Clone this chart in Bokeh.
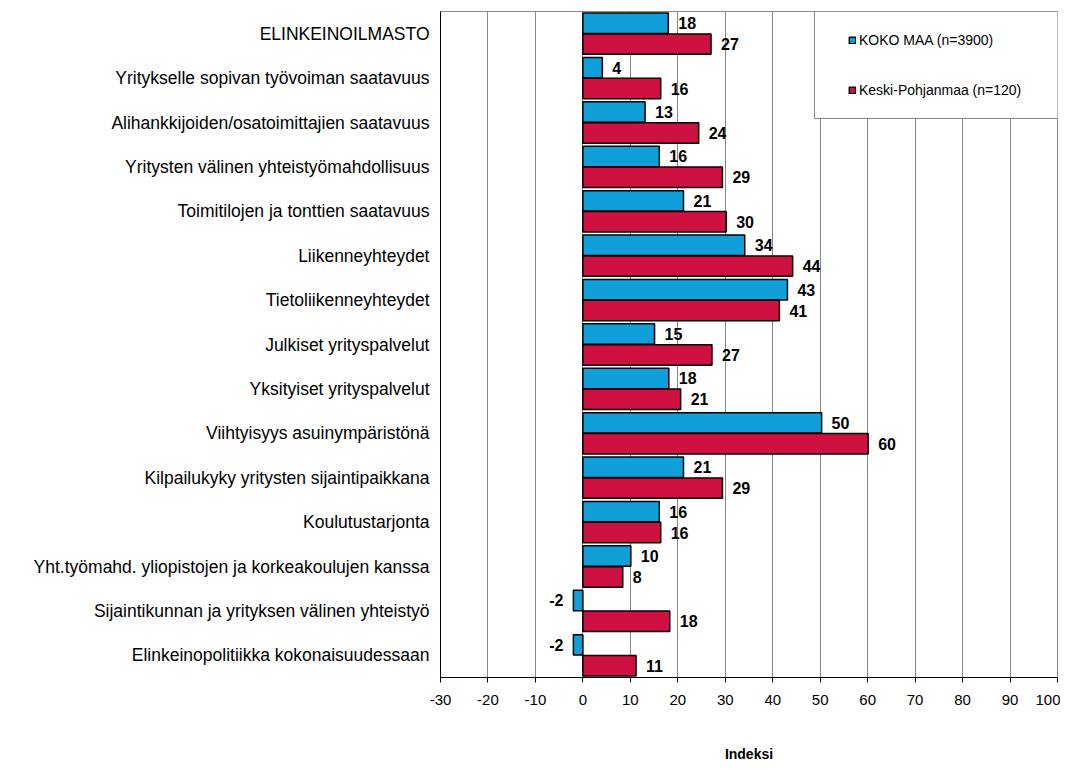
from bokeh.plotting import figure
from bokeh.models import (ColumnDataSource, Range1d, FixedTicker, Legend, LegendItem,
                          BoxAnnotation)
from bokeh.core.properties import value
from bokeh.embed import file_html
from bokeh.resources import INLINE

categories = [
    "ELINKEINOILMASTO",
    "Yritykselle sopivan työvoiman saatavuus",
    "Alihankkijoiden/osatoimittajien saatavuus",
    "Yritysten välinen yhteistyömahdollisuus",
    "Toimitilojen ja tonttien saatavuus",
    "Liikenneyhteydet",
    "Tietoliikenneyhteydet",
    "Julkiset yrityspalvelut",
    "Yksityiset yrityspalvelut",
    "Viihtyisyys asuinympäristönä",
    "Kilpailukyky yritysten sijaintipaikkana",
    "Koulutustarjonta",
    "Yht.työmahd. yliopistojen ja korkeakoulujen kanssa",
    "Sijaintikunnan ja yrityksen välinen yhteistyö",
    "Elinkeinopolitiikka kokonaisuudessaan",
]
koko_maa = [18.0, 4.1, 13.1, 16.1, 21.2, 34.1, 43.1, 15.1, 18.1, 50.3, 21.2, 16.1, 10.1, -2.0, -2.0]
keski_pohjanmaa = [27.0, 16.4, 24.4, 29.4, 30.2, 44.2, 41.4, 27.2, 20.6, 60.1, 29.4, 16.4, 8.4, 18.3, 11.2]
series_names = ["KOKO MAA (n=3900)", "Keski-Pohjanmaa (n=120)"]
x_ticks = list(range(-30, 101, 10))

BLUE = "#109FD8"
RED = "#CE1141"
FONT = "Liberation Sans"

n = len(categories)
pos = list(range(n))

def make_source(vals, shift):
    return ColumnDataSource(dict(
        y=[p_ + shift for p_ in pos],
        v=vals,
        lbl=[str(int(round(v))) for v in vals],
        align=["left" if v >= 0 else "right" for v in vals],
        xo=[10 if v >= 0 else -10 for v in vals],
    ))

src_b = make_source(koko_maa, -0.235)
src_r = make_source(keski_pohjanmaa, 0.235)

p = figure(width=1060, height=766, output_backend="svg", toolbar_location=None,
           x_range=Range1d(-30, 100), y_range=Range1d(n - 0.5, -0.5),
           min_border_left=440, min_border_right=3, min_border_top=11, min_border_bottom=89)

p.background_fill_color = "white"
p.border_fill_color = "white"
p.outline_line_color = "#868686"
p.outline_line_width = 1

bar_h = 0.46
rb = p.hbar(y="y", left=0, right="v", height=bar_h, source=src_b,
            fill_color=BLUE, line_color="black", line_width=1.5)
rr = p.hbar(y="y", left=0, right="v", height=bar_h, source=src_r,
            fill_color=RED, line_color="black", line_width=1.5)

for s in (src_b, src_r):
    p.text(x="v", y="y", text="lbl", source=s, x_offset="xo", text_align="align",
           text_baseline="middle", text_font=value(FONT), text_font_style="bold",
           text_font_size="16px", text_color="black")

# grid
p.ygrid.grid_line_color = None
p.xgrid.ticker = FixedTicker(ticks=x_ticks)
p.xgrid.grid_line_color = "#868686"
p.xgrid.grid_line_width = 1

# x axis
p.xaxis.ticker = FixedTicker(ticks=x_ticks)
p.xaxis.major_label_overrides = {t: str(t) for t in x_ticks}
p.xaxis.axis_line_color = "black"
p.xaxis.major_tick_line_color = "black"
p.xaxis.major_tick_out = 5
p.xaxis.major_tick_in = 0
p.xaxis.minor_tick_line_color = None
p.xaxis.major_label_text_font = FONT
p.xaxis.major_label_text_font_size = "15px"
p.xaxis.major_label_text_color = "black"
p.xaxis.major_label_standoff = 12
p.xaxis.axis_label = "Indeksi"
p.xaxis.axis_label_text_font = FONT
p.xaxis.axis_label_text_font_size = "14px"
p.xaxis.axis_label_text_font_style = "bold"
p.xaxis.axis_label_text_color = "black"
p.xaxis.axis_label_standoff = 38

# y axis
p.yaxis.ticker = FixedTicker(ticks=pos)
p.yaxis.major_label_overrides = {i: c for i, c in enumerate(categories)}
p.yaxis.axis_line_color = "black"
p.yaxis.major_tick_line_color = None
p.yaxis.minor_tick_line_color = None
p.yaxis.major_label_text_font = FONT
p.yaxis.major_label_text_font_size = "17.5px"
p.yaxis.major_label_text_color = "black"
p.yaxis.major_label_standoff = 5

# legend box
box = BoxAnnotation(left=48.8, right=100.2, top=-0.5, bottom=1.91,
                    fill_color="white", fill_alpha=1.0,
                    line_color="#868686", line_width=1, line_alpha=1.0)
p.add_layout(box)

legend = Legend(items=[LegendItem(label=series_names[0], renderers=[rb]),
                       LegendItem(label=series_names[1], renderers=[rr])],
                location="top_right", margin=19, padding=0, spacing=30,
                label_height=20, glyph_height=8, glyph_width=8, label_standoff=3,
                label_width=179, border_line_alpha=0, background_fill_alpha=0,
                label_text_font=FONT, label_text_font_size="14px",
                label_text_color="black")
p.add_layout(legend)

open("out.html", "w").write(file_html(p, INLINE))
